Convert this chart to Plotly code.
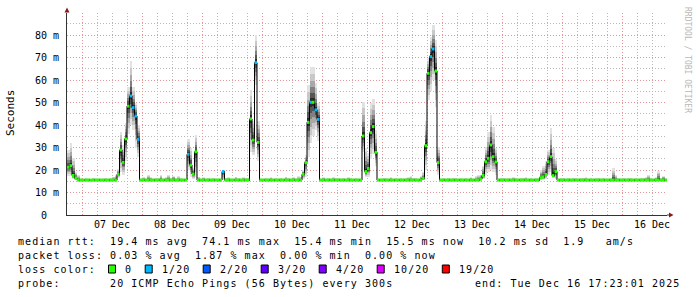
import plotly.graph_objects as go
import pandas as pd
import numpy as np

# ---------------- data ----------------
start_time = "2025-12-06 18:00"     # first hourly bin
n_hours = 240

median_ms = [
    21.3, 21.9, 17.6, 16.3, 15.5, 15.5, 15.5, 15.5, 15.5, 15.5, 15.5, 15.5,
    15.5, 15.5, 15.5, 15.5, 15.5, 15.5, 15.5, 15.5, 18.1, 28.9, 23.4, 33.8,
    48.4, 52.9, 47.7, 44.0, 33.6, 15.5, 15.5, 15.5, 15.5, 15.5, 15.5, 15.5,
    15.5, 15.5, 15.5, 15.5, 15.5, 15.5, 15.5, 15.5, 15.5, 15.5, 15.5, 15.5,
    27.0, 22.2, 18.2, 28.1, 15.5, 15.5, 15.5, 15.5, 15.5, 15.5, 15.5, 15.5,
    15.5, 15.5, 19.3, 15.5, 15.5, 15.5, 15.5, 15.5, 15.5, 15.5, 15.5, 15.5,
    15.5, 42.7, 33.3, 67.7, 32.3, 15.5, 15.5, 15.5, 15.5, 15.5, 15.5, 15.5,
    15.5, 15.5, 15.5, 15.5, 15.5, 15.5, 15.5, 15.5, 15.5, 15.5, 18.1, 23.3,
    41.2, 50.1, 50.1, 46.7, 42.5, 15.5, 15.5, 15.5, 15.5, 15.5, 15.5, 15.5,
    15.5, 15.5, 15.5, 15.5, 15.5, 15.5, 15.5, 15.5, 15.5, 15.5, 35.1, 19.3,
    20.7, 36.6, 39.3, 27.9, 15.5, 15.5, 15.5, 15.5, 15.5, 15.5, 15.5, 15.5,
    15.5, 15.5, 15.5, 15.5, 15.5, 15.5, 15.5, 15.5, 15.5, 15.5, 16.3, 30.8,
    63.0, 70.4, 73.8, 64.0, 23.3, 15.5, 15.5, 15.5, 15.5, 15.5, 15.5, 15.5,
    15.5, 15.5, 15.5, 15.5, 15.5, 15.5, 15.5, 15.5, 15.5, 15.9, 17.6, 23.7,
    25.2, 31.1, 25.9, 23.6, 15.5, 15.5, 15.5, 15.5, 15.5, 15.5, 15.5, 15.5,
    15.5, 15.5, 15.5, 15.5, 15.5, 15.5, 15.5, 15.5, 15.5, 16.6, 16.9, 18.0,
    23.7, 25.9, 17.5, 19.3, 15.5, 15.5, 15.5, 15.5, 15.5, 15.5, 15.5, 15.5,
    15.5, 15.5, 15.5, 15.5, 15.5, 15.5, 15.5, 15.5, 15.5, 15.5, 15.5, 15.5,
    15.5, 15.5, 15.5, 15.5, 15.5, 15.5, 15.5, 15.5, 15.5, 15.5, 15.5, 15.5,
    15.5, 15.5, 15.5, 15.5, 15.5, 15.5, 15.5, 15.5, 15.6, 15.5, 15.5, 15.5,
]

smoke_lo_ms = [
    17.5, 17.5, 16.0, 15.5, 15.3, 15.3, 15.3, 15.3, 15.3, 15.3, 15.3, 15.3,
    15.3, 15.3, 15.3, 15.3, 15.3, 15.3, 15.3, 15.3, 16.5, 19.0, 18.0, 24.0,
    36.0, 40.0, 38.0, 30.0, 26.0, 15.3, 15.3, 15.3, 15.3, 15.3, 15.3, 15.3,
    15.3, 15.3, 15.3, 15.3, 15.3, 15.3, 15.3, 15.3, 15.3, 15.3, 15.3, 15.3,
    20.0, 17.0, 16.0, 17.0, 15.3, 15.3, 15.3, 15.3, 15.3, 15.3, 15.3, 15.3,
    15.3, 15.3, 15.4, 15.3, 15.3, 15.3, 15.3, 15.3, 15.3, 15.3, 15.3, 15.3,
    15.3, 28.0, 26.5, 58.0, 24.0, 15.3, 15.3, 15.3, 15.3, 15.3, 15.3, 15.3,
    15.3, 15.3, 15.3, 15.3, 15.3, 15.3, 15.3, 15.3, 15.3, 15.3, 16.2, 17.0,
    26.0, 32.0, 35.0, 38.0, 33.0, 15.3, 15.3, 15.3, 15.3, 15.3, 15.3, 15.3,
    15.3, 15.3, 15.3, 15.3, 15.3, 15.3, 15.3, 15.3, 15.3, 15.3, 28.0, 17.0,
    17.0, 25.0, 27.0, 22.0, 15.3, 15.3, 15.3, 15.3, 15.3, 15.3, 15.3, 15.3,
    15.3, 15.3, 15.3, 15.3, 15.3, 15.3, 15.3, 15.3, 15.3, 15.3, 15.5, 20.0,
    51.0, 55.0, 60.0, 48.0, 18.0, 15.3, 15.3, 15.3, 15.3, 15.3, 15.3, 15.3,
    15.3, 15.3, 15.3, 15.3, 15.3, 15.3, 15.3, 15.3, 15.3, 15.4, 16.0, 18.0,
    19.0, 20.0, 19.0, 18.0, 15.3, 15.3, 15.3, 15.3, 15.3, 15.3, 15.3, 15.3,
    15.3, 15.3, 15.3, 15.3, 15.3, 15.3, 15.3, 15.3, 15.3, 15.4, 15.6, 16.0,
    18.0, 19.0, 16.5, 16.0, 15.3, 15.3, 15.3, 15.3, 15.3, 15.3, 15.3, 15.3,
    15.3, 15.3, 15.3, 15.3, 15.3, 15.3, 15.3, 15.3, 15.3, 15.3, 15.3, 15.3,
    15.3, 15.3, 15.3, 15.3, 15.3, 15.3, 15.3, 15.3, 15.3, 15.3, 15.3, 15.3,
    15.3, 15.3, 15.3, 15.3, 15.3, 15.3, 15.3, 15.3, 15.3, 15.3, 15.3, 15.3,
]

smoke_hi_ms = [
    29.0, 32.0, 25.5, 19.3, 17.6, 16.4, 16.2, 16.6, 16.3, 16.2, 16.5, 16.3,
    16.3, 16.4, 16.3, 16.5, 16.3, 16.6, 17.0, 17.6, 20.5, 37.0, 31.0, 41.0,
    57.0, 68.5, 57.0, 50.0, 40.0, 16.4, 16.8, 16.3, 17.6, 16.8, 16.4, 16.6,
    16.5, 17.8, 16.4, 16.8, 17.6, 16.5, 17.5, 16.4, 17.2, 16.5, 16.3, 16.4,
    34.0, 30.0, 21.0, 35.5, 17.0, 16.4, 16.8, 16.3, 16.5, 16.4, 16.6, 16.3,
    16.4, 16.3, 19.6, 16.5, 16.8, 16.4, 16.3, 17.0, 16.5, 16.4, 16.8, 16.5,
    16.5, 55.6, 42.0, 80.0, 42.0, 16.4, 16.3, 16.5, 16.4, 16.8, 16.3, 16.5,
    16.4, 16.6, 16.3, 17.0, 16.5, 16.4, 16.8, 16.4, 17.2, 17.0, 20.0, 26.5,
    58.0, 66.0, 66.0, 58.7, 50.0, 16.4, 16.8, 16.3, 16.6, 16.4, 16.8, 16.5,
    16.5, 16.4, 16.6, 16.3, 16.8, 16.5, 16.4, 16.6, 16.3, 16.4, 50.4, 30.0,
    27.6, 50.0, 51.5, 38.0, 16.4, 16.3, 16.6, 16.5, 16.4, 16.8, 16.3, 16.5,
    16.4, 16.6, 16.3, 16.5, 16.8, 17.2, 16.6, 16.5, 16.4, 17.5, 19.0, 42.0,
    70.0, 79.0, 84.4, 78.0, 30.4, 16.4, 16.6, 16.3, 16.5, 16.4, 16.6, 16.5,
    16.4, 16.6, 16.3, 16.5, 16.4, 16.8, 16.4, 17.2, 17.8, 18.0, 22.0, 30.4,
    37.0, 44.4, 39.0, 30.0, 16.4, 16.6, 16.5, 16.3, 16.6, 16.4, 16.8, 16.5,
    16.4, 16.6, 16.5, 16.8, 16.4, 16.6, 16.3, 16.5, 16.6, 20.0, 22.0, 24.0,
    28.9, 38.5, 30.0, 25.0, 16.4, 16.6, 16.5, 16.3, 16.6, 16.4, 16.6, 16.5,
    16.4, 16.6, 16.5, 16.8, 16.3, 16.6, 16.4, 16.5, 16.6, 16.4, 16.5, 16.3,
    16.4, 16.6, 20.8, 18.0, 16.6, 16.4, 16.5, 16.3, 16.5, 16.6, 16.4, 16.5,
    16.4, 16.6, 16.5, 16.8, 17.8, 16.5, 16.4, 16.8, 19.7, 16.6, 17.5, 16.4,
]

# hours (bin index) where 1 of 20 pings was lost
loss_1_20_hours = [25, 26, 27, 28, 48, 62, 75, 97, 99, 100, 145, 146]

y_tick_values = [0, 10, 20, 30, 40, 50, 60, 70, 80]
y_tick_labels = ["0\u00a0\u00a0", "10 m", "20 m", "30 m", "40 m", "50 m", "60 m", "70 m", "80 m"]

loss_levels = ["0", "1/20", "2/20", "3/20", "4/20", "10/20", "19/20"]
loss_colors = ["#26ff00", "#00b8ff", "#0059ff", "#5e00ff", "#7e00ff", "#dd00ff", "#ff0000"]

legend_lines = [
    "median rtt:  19.4 ms avg  74.1 ms max  15.4 ms min  15.5 ms now  10.2 ms sd  1.9   am/s",
    "packet loss: 0.03 % avg  1.87 % max  0.00 % min  0.00 % now",
    "loss color:",
    "probe:       20 ICMP Echo Pings (56 Bytes) every 300s",
]
end_text = "end: Tue Dec 16 17:23:01 2025"

# ---------------- geometry ----------------
W, H = 697, 297
L, R, T, B = 67, 30, 13, 82
PW, PH = W - L - R, H - T - B


def px(x):
    return (x - L) / PW


def py(y):
    return (T + PH - y) / PH


MONO = "DejaVu Sans Mono"

t0 = pd.Timestamp(start_time)
bin_start = t0 + pd.to_timedelta(np.arange(n_hours), unit="h")
bin_center = bin_start + pd.Timedelta(minutes=30)
t_end = t0 + pd.Timedelta(hours=n_hours)

med = np.array(median_ms)
lo = np.array(smoke_lo_ms)
hi = np.array(smoke_hi_ms)

fig = go.Figure()

# smoke: shaded bands, lighter further from the median
shades = [(1.0, "#e2e2e2"), (0.8, "#c8c8c8"), (0.6, "#a8a8a8"),
          (0.42, "#808080"), (0.26, "#555555"), (0.12, "#2a2a2a")]
for frac, col in shades:
    b_lo = med - (med - lo) * frac
    b_hi = med + (hi - med) * frac
    fig.add_trace(go.Bar(
        x=bin_center, y=b_hi - b_lo, base=b_lo, width=3600000,
        marker=dict(color=col, line=dict(width=0)), hoverinfo="skip",
        showlegend=False))

# median step line (black)
fig.add_trace(go.Scatter(
    x=list(bin_start) + [t_end], y=list(med) + [med[-1]],
    mode="lines", line=dict(color="#000000", width=1, shape="hv"),
    hoverinfo="skip", showlegend=False))

# median coloured by loss
loss_idx = np.zeros(n_hours, dtype=int)
loss_idx[loss_1_20_hours] = 1
for li in sorted(set(loss_idx)):
    xs, ys = [], []
    for h in range(n_hours):
        if loss_idx[h] == li:
            xs += [bin_start[h], bin_start[h] + pd.Timedelta(hours=1), None]
            ys += [med[h], med[h], None]
    fig.add_trace(go.Scatter(
        x=xs, y=ys, mode="lines",
        line=dict(color=loss_colors[li], width=3),
        hoverinfo="skip", showlegend=False))

fig.update_layout(
    width=W, height=H,
    margin=dict(l=L, r=R, t=T, b=B, pad=0),
    paper_bgcolor="#ffffff", plot_bgcolor="#ffffff",
    barmode="overlay", bargap=0,
    showlegend=False,
    font=dict(family=MONO, size=10, color="#000000"),
)

MAJOR = "#e49494"
MINOR = "#b8b8b8"

fig.update_xaxes(
    type="date", range=[t0, t_end],
    tick0="2025-12-07", dtick=86400000,
    tickformat="%d %b", ticklabelmode="period",
    ticks="", tickfont=dict(family=MONO, size=10, color="#000000"),
    showgrid=True, gridcolor=MAJOR, gridwidth=1, griddash="1px,2px",
    minor=dict(dtick=21600000, tick0="2025-12-07", showgrid=True,
               gridcolor=MINOR, gridwidth=1, griddash="1px,2px"),
    showline=True, linecolor="#333333", linewidth=1,
    zeroline=False, fixedrange=True,
)

fig.update_yaxes(
    range=[0, PH / 2.25],
    tickmode="array", tickvals=y_tick_values, ticktext=y_tick_labels,
    ticks="outside", ticklen=5, tickcolor="rgba(0,0,0,0)",
    tickfont=dict(family=MONO, size=10, color="#000000"),
    showgrid=True, gridcolor=MAJOR, gridwidth=1, griddash="1px,2px",
    minor=dict(dtick=5, tick0=0, showgrid=True, gridcolor=MINOR,
               gridwidth=1, griddash="1px,2px"),
    showline=True, linecolor="#333333", linewidth=1,
    zeroline=False, fixedrange=True,
)

shapes = []
# axis arrows
shapes.append(dict(type="path", xref="paper", yref="paper",
                   path=f"M {px(64.5)} {py(12.5)} L {px(69.5)} {py(12.5)} L {px(67)} {py(7.5)} Z",
                   fillcolor="#8b1a1a", line=dict(width=0)))
shapes.append(dict(type="line", xref="paper", yref="paper",
                   x0=px(667), x1=px(669), y0=py(215), y1=py(215),
                   line=dict(color="#333333", width=1)))
shapes.append(dict(type="path", xref="paper", yref="paper",
                   path=f"M {px(669)} {py(212.5)} L {px(669)} {py(217.5)} L {px(673.5)} {py(215)} Z",
                   fillcolor="#8b1a1a", line=dict(width=0)))

annotations = []


def spaced(s, ls=1.06):
    return f'<span style="letter-spacing:{ls}px">' + s.replace(" ", "\u00a0") + "</span>"


line_y = [241.5, 255.5, 269.5, 283.5]
for txt, yy in zip(legend_lines, line_y):
    annotations.append(dict(text=spaced(txt), xref="paper", yref="paper",
                            x=px(16), y=py(yy), xanchor="left", yanchor="middle",
                            showarrow=False, font=dict(family=MONO, size=10, color="#000000")))
annotations.append(dict(text=spaced(end_text), xref="paper", yref="paper",
                        x=px(682), y=py(line_y[3]), xanchor="right", yanchor="middle",
                        showarrow=False, font=dict(family=MONO, size=10, color="#000000")))

# loss colour legend boxes
box_x = 108.5
for lab, col in zip(loss_levels, loss_colors):
    shapes.append(dict(type="rect", xref="paper", yref="paper",
                       x0=px(box_x), x1=px(box_x + 7), y0=py(273), y1=py(265),
                       fillcolor=col, line=dict(color="#000000", width=1)))
    annotations.append(dict(text=spaced(lab), xref="paper", yref="paper",
                            x=px(box_x + 14.5), y=py(line_y[2]), xanchor="left", yanchor="middle",
                            showarrow=False, font=dict(family=MONO, size=10, color="#000000")))
    box_x += 29.6 + 7.1 * len(lab)

# y-axis title
annotations.append(dict(text="Seconds", xref="paper", yref="paper",
                        x=px(10), y=py(113), xanchor="center", yanchor="middle",
                        textangle=-90, showarrow=False,
                        font=dict(family=MONO, size=11, color="#000000")))
# vertical credit text
annotations.append(dict(text="RRDTOOL / TOBI OETIKER", xref="paper", yref="paper",
                        x=px(688), y=py(60), xanchor="center", yanchor="middle",
                        textangle=90, showarrow=False,
                        font=dict(family=MONO, size=8, color="#b8b8b8")))

fig.update_layout(shapes=shapes, annotations=annotations)

fig.write_html("out.html")
